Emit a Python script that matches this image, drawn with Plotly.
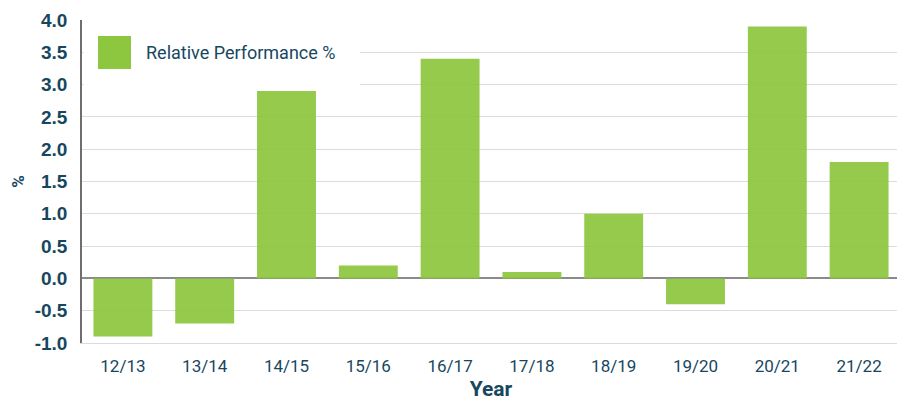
import plotly.graph_objects as go

years = ["12/13", "13/14", "14/15", "15/16", "16/17", "17/18", "18/19", "19/20", "20/21", "21/22"]
rel_perf = [-0.9, -0.7, 2.9, 0.2, 3.4, 0.1, 1.0, -0.4, 3.9, 1.8]
y_ticks = [-1.0, -0.5, 0.0, 0.5, 1.0, 1.5, 2.0, 2.5, 3.0, 3.5, 4.0]
series_name = "Relative Performance %"

GREEN = "#8dc63f"
TEXT = "#17475f"
GRID = "#dcdcdc"

fig = go.Figure()
fig.add_trace(go.Bar(
    x=years, y=rel_perf, name=series_name,
    marker=dict(color=GREEN, line_width=0), opacity=0.93,
    showlegend=False,
))

# page body has an 8px margin, so the figure is 8px smaller and margins shifted
fig.update_layout(
    width=897, height=393,
    margin=dict(l=74, r=5, t=12, b=58),
    paper_bgcolor="white", plot_bgcolor="white",
    bargap=0.28,
    font=dict(family="Roboto", color=TEXT),
    xaxis=dict(
        title=dict(text="<b>Year</b>", font=dict(size=21, family="Roboto", color=TEXT), standoff=14),
        tickfont=dict(size=17, family="Roboto", color=TEXT),
        showline=True, linecolor=GRID, linewidth=1, mirror=False,
        ticks="", showgrid=False, automargin=False, ticklabelstandoff=8,
    ),
    yaxis=dict(
        title=dict(text="<b>%</b>", font=dict(size=17, family="Roboto", color=TEXT), standoff=12),
        range=[-1.0, 4.0], tickvals=y_ticks,
        ticktext=[f"<b>{v:.1f}</b>" for v in y_ticks],
        tickfont=dict(size=19, family="Liberation Sans", color=TEXT),
        showgrid=True, gridcolor=GRID, gridwidth=1,
        zeroline=True, zerolinecolor="#8a8a8a", zerolinewidth=1.5,
        showline=True, linecolor="#6e6e6e", linewidth=1.5,
        ticks="", ticklabelstandoff=9, automargin=False,
    ),
    shapes=[
        dict(type="rect", xref="paper", yref="paper", x0=0.002, x1=0.34, y0=0.79, y1=0.97,
             fillcolor="white", line_width=0, layer="above"),
        dict(type="rect", xref="paper", yref="paper", x0=16 / 818, x1=49 / 818,
             y0=(343 - 69) / 323, y1=(343 - 36) / 323,
             fillcolor=GREEN, line_width=0, layer="above"),
    ],
    annotations=[
        dict(text=series_name, xref="paper", yref="paper", x=62 / 818, y=(343 - 52) / 323,
             xanchor="left", yanchor="middle", showarrow=False,
             font=dict(size=18, family="Roboto", color=TEXT)),
    ],
)

fig.write_html("out.html")
